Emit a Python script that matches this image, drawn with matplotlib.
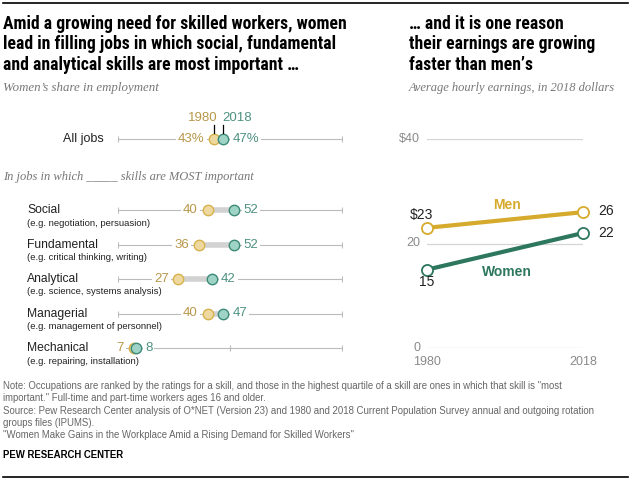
import matplotlib
matplotlib.use("Agg")
import matplotlib.pyplot as plt
from matplotlib import font_manager as fm
from matplotlib.lines import Line2D
from matplotlib.transforms import blended_transform_factory


def pick(*names):
    for n in names:
        try:
            fm.findfont(fm.FontProperties(family=n), fallback_to_default=False)
            return n
        except Exception:
            pass
    return "DejaVu Sans"


NARROW = pick("Liberation Sans Narrow", "Roboto Condensed", "Liberation Sans")
SANS = pick("Liberation Sans Narrow", "Liberation Sans")
SERIF = pick("Liberation Serif", "DejaVu Serif")
narrow_ok = NARROW != "Liberation Sans"

# ---- data ----
skills = ["All jobs", "Social", "Fundamental", "Analytical", "Managerial", "Mechanical"]
examples = ["", "(e.g. negotiation, persuasion)", "(e.g. critical thinking, writing)",
            "(e.g. science, systems analysis)", "(e.g. management of personnel)",
            "(e.g. repairing, installation)"]
share_1980 = [43, 40, 36, 27, 40, 7]
share_2018 = [47, 52, 52, 42, 47, 8]

years = [1980, 2018]
earn_men = [23, 26]
earn_women = [15, 22]
earn_ticks = [0, 20, 40]
earn_ticklabels = ["0", "20", "$40"]

# ---- colours ----
GOLD_FILL, GOLD_EDGE, GOLD_TXT = "#EDD9A0", "#D6B24C", "#B8974A"
TEAL_FILL, TEAL_EDGE, TEAL_TXT = "#9ED3C5", "#3E8A78", "#4E9281"
MEN, WOMEN = "#D6AA2C", "#2E775F"
GREY = "#8A8A8A"

W, H = 640, 482
fig = plt.figure(figsize=(6.4, 4.82), dpi=100)


def fx(px):
    return px / W


def fy(py):
    return 1 - py / H


# ---- header ----
tsize = 12.7 if narrow_ok else 10.5
fig.add_artist(Line2D([fx(3), fx(628)], [fy(3), fy(3)], color="black", lw=1.2))
fig.text(fx(3), fy(15), "Amid a growing need for skilled workers, women\n"
         "lead in filling jobs in which social, fundamental\n"
         "and analytical skills are most important \u2026",
         family=NARROW, weight="bold", size=tsize, va="top", ha="left",
         linespacing=1.17)
fig.text(fx(409), fy(15), "\u2026 and it is one reason\ntheir earnings are growing\n"
         "faster than men\u2019s",
         family=NARROW, weight="bold", size=tsize, va="top", ha="left",
         linespacing=1.17)
fig.text(fx(3), fy(88), "Women\u2019s share in employment", family=SERIF, style="italic",
         size=9.3, color="#777777", va="center")
fig.text(fx(409), fy(88), "Average hourly earnings, in 2018 dollars", family=SERIF,
         style="italic", size=9.0, color="#777777", va="center")
fig.text(fx(3), fy(177), "In jobs in which _____ skills are MOST important", family=SERIF,
         style="italic", size=9.0, color="#777777", va="center")

# ---- left: dumbbells ----
unit = 34.5
row_y = [0, 71 / unit, 71 / unit + 1, 71 / unit + 2, 71 / unit + 3, 71 / unit + 4]
top_px, bot_px = 139 - 0.5 * unit, 139 + (row_y[-1] + 0.5) * unit
ax = fig.add_axes([fx(118), fy(bot_px), fx(342) - fx(118), (bot_px - top_px) / H])
ax.set_xlim(0, 100)
ax.set_ylim(row_y[-1] + 0.5, -0.5)
ax.axis("off")

lbl = blended_transform_factory(fig.transFigure, ax.transData)
for i, (name, ex, a, b) in enumerate(zip(skills, examples, share_1980, share_2018)):
    y = row_y[i]
    ax.plot([0, 100], [y, y], color="#BBBBBB", lw=0.8, zorder=1)
    ax.plot([0, 50, 100], [y] * 3, ls="none", marker="|", ms=4, mew=0.8,
            color="#BBBBBB", zorder=1)
    ax.plot([a, b], [y, y], color="#D2D2D2", lw=4, solid_capstyle="butt", zorder=2)
    ax.plot(a, y, "o", ms=7.5, mfc=GOLD_FILL, mec=GOLD_EDGE, mew=1, zorder=4)
    ax.plot(b, y, "o", ms=7.5, mfc=TEAL_FILL, mec=TEAL_EDGE, mew=1, zorder=5)
    suf = "%" if i == 0 else ""
    box = dict(boxstyle="square,pad=0.15", fc="white", ec="none")
    ax.annotate(f"{a}{suf}", (a, y), xytext=(-7, 0), textcoords="offset points",
                ha="right", va="center", color=GOLD_TXT, size=9.5, family=SANS,
                bbox=box, zorder=3)
    ax.annotate(f"{b}{suf}", (b, y), xytext=(6.5, 0), textcoords="offset points",
                ha="left", va="center", color=TEAL_TXT, size=9.5, family=SANS,
                bbox=box, zorder=3)
    if i == 0:
        ax.text(fx(104), y, name, transform=lbl, ha="right", va="center",
                size=9, family=SANS, color="#222222")
        for v in (a, b):
            ax.plot([v, v], [y - 14 / unit, y - 6 / unit], color="black", lw=0.9,
                    zorder=6, clip_on=False)
        ax.annotate(str(years[0]), (a, y - 21 / unit), xytext=(2, 0),
                    textcoords="offset points", ha="right", va="center",
                    color=GOLD_TXT, size=9.5, family=SANS, annotation_clip=False)
        ax.annotate(str(years[1]), (b, y - 21 / unit), xytext=(-1, 0),
                    textcoords="offset points", ha="left", va="center",
                    color=TEAL_TXT, size=9.5, family=SANS, annotation_clip=False)
    else:
        ax.text(fx(27), y, name, transform=lbl, ha="left", va="center",
                size=8.7, family=SANS, color="#222222")
        ax.text(fx(27), y + 13 / unit, ex, transform=lbl, ha="left", va="center",
                size=6.8, family=SANS, color="#222222")

# ---- right: earnings ----
ax2 = fig.add_axes([fx(427), fy(348), fx(583) - fx(427), (348 - 139) / H])
ax2.set_xlim(years[0], years[1])
ax2.set_ylim(0, 40)
for s in ax2.spines.values():
    s.set_visible(False)
ax2.set_xticks([])
ax2.set_yticks([])
for t, tl in zip(earn_ticks, earn_ticklabels):
    ax2.axhline(t, color="#D5D5D5", lw=0.9, zorder=0)
    ax2.annotate(tl, (years[0], t), xytext=(-5, 0), textcoords="offset points",
                 ha="right", va="center", size=9, color=GREY, family=SANS)
for yr in years:
    ax2.annotate(str(yr), (yr, 0), xytext=(0, -10), textcoords="offset points",
                 ha="center", va="center", size=9, color=GREY, family=SANS)

for vals, col in ((earn_men, MEN), (earn_women, WOMEN)):
    ax2.plot(years, vals, color=col, lw=3, marker="o", ms=8, mfc="white", mec=col,
             mew=1.3, clip_on=False, zorder=3)

ax2.annotate(f"${earn_men[0]}", (years[0], earn_men[0]), xytext=(-4, 9),
             textcoords="offset points", ha="center", va="center", size=10,
             family=SANS, color="#222222")
ax2.annotate(str(earn_women[0]), (years[0], earn_women[0]), xytext=(0, -9),
             textcoords="offset points", ha="center", va="center", size=10,
             family=SANS, color="#222222")
ax2.annotate(str(earn_men[1]), (years[1], earn_men[1]), xytext=(11, 1),
             textcoords="offset points", ha="left", va="center", size=10,
             family=SANS, color="#222222")
ax2.annotate(str(earn_women[1]), (years[1], earn_women[1]), xytext=(11, 0),
             textcoords="offset points", ha="left", va="center", size=10,
             family=SANS, color="#222222")
ax2.annotate("Men", (1999.5, 27.4), ha="center", va="center", size=10,
             weight="bold", family=SANS, color=MEN)
ax2.annotate("Women", (1999.5, 14.6), ha="center", va="center", size=10,
             weight="bold", family=SANS, color=WOMEN)

# ---- footer ----
notes = [
    "Note: Occupations are ranked by the ratings for a skill, and those in the highest quartile "
    "of a skill are ones in which that skill is \"most",
    "important.\" Full-time and part-time workers ages 16 and older.",
    "Source: Pew Research Center analysis of O*NET (Version 23) and 1980 and 2018 Current "
    "Population Survey annual and outgoing rotation",
    "groups files (IPUMS).",
    "\"Women Make Gains in the Workplace Amid a Rising Demand for Skilled Workers\"",
]
fsize = 6.9 if narrow_ok else 6.0
for k, line in enumerate(notes):
    fig.text(fx(3), fy(386 + 12.3 * k), line, size=fsize, family=SANS, color="#666666",
             va="center")
fig.text(fx(3), fy(455), "PEW RESEARCH CENTER", size=fsize, weight="bold",
         family=SANS, color="black", va="center")
fig.add_artist(Line2D([fx(3), fx(628)], [fy(477), fy(477)], color="black", lw=1.2))

fig.savefig("out.png", dpi=100)
